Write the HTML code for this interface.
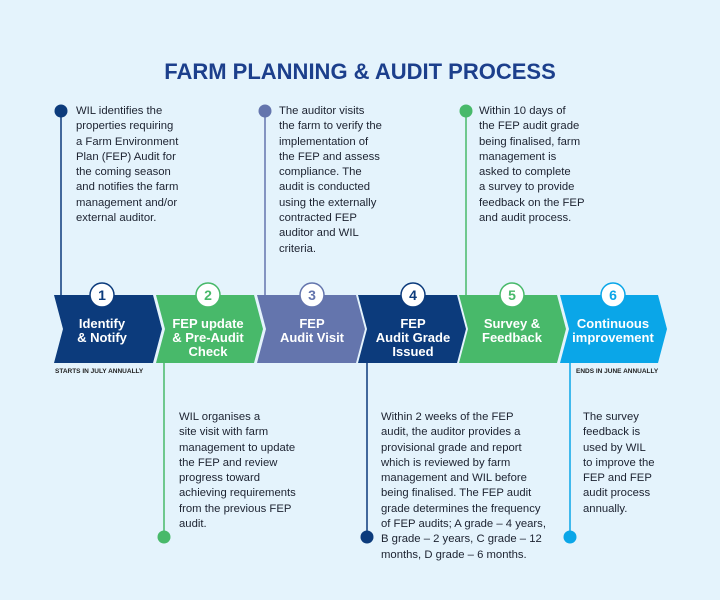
<!DOCTYPE html><html><head><style>
body{margin:0;width:720px;height:600px;background:#e4f3fc;font-family:"Liberation Sans",sans-serif;position:relative;overflow:hidden}
.t{position:absolute;font-size:11.3px;line-height:15.3px;color:#1c2230}
.h{position:absolute;top:59px;left:0;width:720px;text-align:center;font-weight:bold;font-size:22px;color:#1c3f8c}
.s{position:absolute;font-size:6.5px;font-weight:bold;color:#222}
</style></head><body>
<div class="h">FARM PLANNING &amp; AUDIT PROCESS</div>
<svg width="720" height="600" style="position:absolute;left:0;top:0">
<g stroke-width="1.5">
<line x1="61" y1="111" x2="61" y2="296" stroke="#0c3b7c"/>
<line x1="265" y1="111" x2="265" y2="296" stroke="#6475ad"/>
<line x1="466" y1="111" x2="466" y2="296" stroke="#48b96a"/>
<line x1="164" y1="362" x2="164" y2="537" stroke="#48b96a"/>
<line x1="367" y1="362" x2="367" y2="537" stroke="#0c3b7c"/>
<line x1="570" y1="362" x2="570" y2="537" stroke="#0aa6e8"/>
</g>
<circle cx="61" cy="111" r="6.5" fill="#0c3b7c"/>
<circle cx="265" cy="111" r="6.5" fill="#6475ad"/>
<circle cx="466" cy="111" r="6.5" fill="#48b96a"/>
<circle cx="164" cy="537" r="6.5" fill="#48b96a"/>
<circle cx="367" cy="537" r="6.5" fill="#0c3b7c"/>
<circle cx="570" cy="537" r="6.5" fill="#0aa6e8"/>
<g>
<polygon points="54,295 153,295 162,329 153,363 54,363 63,329" fill="#0c3b7c"/>
<polygon points="156,295 254,295 263,329 254,363 156,363 165,329" fill="#48b96a"/>
<polygon points="257,295 356,295 365,329 356,363 257,363 266,329" fill="#6475ad"/>
<polygon points="358,295 457,295 466,329 457,363 358,363 367,329" fill="#0c3b7c"/>
<polygon points="459,295 557,295 566,329 557,363 459,363 468,329" fill="#48b96a"/>
<polygon points="560,295 658,295 667,329 658,363 560,363 569,329" fill="#0aa6e8"/>
</g>
<g font-family="Liberation Sans" font-weight="bold" font-size="14" text-anchor="middle">
<circle cx="102" cy="295" r="12" fill="#fff" stroke="#0c3b7c" stroke-width="1.5"/><text x="102" y="300" fill="#0c3b7c">1</text>
<circle cx="208" cy="295" r="12" fill="#fff" stroke="#48b96a" stroke-width="1.5"/><text x="208" y="300" fill="#48b96a">2</text>
<circle cx="312" cy="295" r="12" fill="#fff" stroke="#6475ad" stroke-width="1.5"/><text x="312" y="300" fill="#6475ad">3</text>
<circle cx="413" cy="295" r="12" fill="#fff" stroke="#0c3b7c" stroke-width="1.5"/><text x="413" y="300" fill="#0c3b7c">4</text>
<circle cx="512" cy="295" r="12" fill="#fff" stroke="#48b96a" stroke-width="1.5"/><text x="512" y="300" fill="#48b96a">5</text>
<circle cx="613" cy="295" r="12" fill="#fff" stroke="#0aa6e8" stroke-width="1.5"/><text x="613" y="300" fill="#0aa6e8">6</text>
</g>
<g font-family="Liberation Sans" font-weight="bold" font-size="13" fill="#fff" text-anchor="middle">
<text x="102" y="328">Identify</text><text x="102" y="342">&amp; Notify</text>
<text x="208" y="328">FEP update</text><text x="208" y="342">&amp; Pre-Audit</text><text x="208" y="356">Check</text>
<text x="312" y="328">FEP</text><text x="312" y="342">Audit Visit</text>
<text x="413" y="328">FEP</text><text x="413" y="342">Audit Grade</text><text x="413" y="356">Issued</text>
<text x="512" y="328">Survey &amp;</text><text x="512" y="342">Feedback</text>
<text x="613" y="328">Continuous</text><text x="613" y="342">improvement</text>
</g>
</svg>
<div class="s" style="left:55px;top:368px">STARTS IN JULY ANNUALLY</div>
<div class="s" style="left:576px;top:368px">ENDS IN JUNE ANNUALLY</div>
<div class="t" style="left:76px;top:104px">WIL identifies the<br>properties requiring<br>a Farm Environment<br>Plan (FEP) Audit for<br>the coming season<br>and notifies the farm<br>management and/or<br>external auditor.</div>
<div class="t" style="left:279px;top:104px">The auditor visits<br>the farm to verify the<br>implementation of<br>the FEP and assess<br>compliance. The<br>audit is conducted<br>using the externally<br>contracted FEP<br>auditor and WIL<br>criteria.</div>
<div class="t" style="left:479px;top:104px">Within 10 days of<br>the FEP audit grade<br>being finalised, farm<br>management is<br>asked to complete<br>a survey to provide<br>feedback on the FEP<br>and audit process.</div>
<div class="t" style="left:179px;top:410px">WIL organises a<br>site visit with farm<br>management to update<br>the FEP and review<br>progress toward<br>achieving requirements<br>from the previous FEP<br>audit.</div>
<div class="t" style="left:381px;top:410px">Within 2 weeks of the FEP<br>audit, the auditor provides a<br>provisional grade and report<br>which is reviewed by farm<br>management and WIL before<br>being finalised. The FEP audit<br>grade determines the frequency<br>of FEP audits; A grade – 4 years,<br>B grade – 2 years, C grade – 12<br>months, D grade – 6 months.</div>
<div class="t" style="left:583px;top:410px">The survey<br>feedback is<br>used by WIL<br>to improve the<br>FEP and FEP<br>audit process<br>annually.</div>
</body></html>
